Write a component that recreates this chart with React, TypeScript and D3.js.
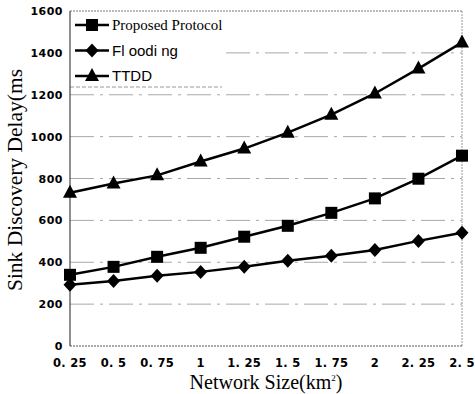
import React from "react";
import * as d3 from "d3";

// network size (km^2)
const sizes = [0.25, 0.5, 0.75, 1, 1.25, 1.5, 1.75, 2, 2.25, 2.5];
const sizeLabels = ["0. 25", "0. 5", "0. 75", "1", "1. 25", "1. 5", "1. 75", "2", "2. 25", "2. 5"];
const yTicks = [0, 200, 400, 600, 800, 1000, 1200, 1400, 1600];

const proposed = [340, 378, 426, 469, 522, 574, 636, 705, 799, 909];
const flooding = [292, 311, 335, 354, 378, 407, 431, 459, 502, 541];
const ttdd = [732, 776, 815, 881, 943, 1019, 1105, 1206, 1325, 1450];

const series = [
  { name: "Proposed Protocol", values: proposed, marker: "square", font: "'Liberation Serif', 'Times New Roman', serif" },
  { name: "Fl oodi ng", values: flooding, marker: "diamond", font: "'Liberation Sans Narrow', 'Liberation Sans', Arial, sans-serif" },
  { name: "TTDD", values: ttdd, marker: "triangle", font: "'Liberation Sans Narrow', 'Liberation Sans', Arial, sans-serif" },
];

const W = 475;
const H = 394;
const left = 70;
const right = 462;
const top = 11;
const bottom = 346;

function Marker({ type, x, y }: { type: string; x: number; y: number }) {
  if (type === "square") return <rect x={x - 6} y={y - 6} width={12} height={12} fill="#000" />;
  if (type === "diamond") return <path d={`M${x},${y - 7}L${x + 6.5},${y}L${x},${y + 7}L${x - 6.5},${y}Z`} fill="#000" />;
  return <path d={`M${x},${y - 8}L${x + 7},${y + 5}L${x - 7},${y + 5}Z`} fill="#000" />;
}

export default function App() {
  const x = d3.scaleLinear().domain([0.25, 2.5]).range([left, right]);
  const y = d3.scaleLinear().domain([0, 1600]).range([bottom, top]);
  const line = d3
    .line<number>()
    .x((_, i) => x(sizes[i]))
    .y((d) => y(d));

  const tickFont = "'DejaVu Sans', Verdana, sans-serif";

  return (
    <svg width={W} height={H} style={{ position: "absolute", left: 0, top: 0, background: "#fff" }}>
      {/* grid */}
      {yTicks.slice(1, -1).map((t) => (
        <line key={t} x1={left} x2={right} y1={y(t)} y2={y(t)} stroke="#a8a8a8" strokeWidth={1} strokeDasharray="24,6,3,6" />
      ))}
      {/* legend box (hides grid behind it) */}
      <rect x={left} y={top} width={222 - left} height={87 - top} fill="#fff" />
      <line x1={left} x2={222} y1={87} y2={87} stroke="#999" strokeDasharray="4,2" />

      {/* frame */}
      <line x1={left} x2={right} y1={top} y2={top} stroke="#777" strokeDasharray="2,1" />
      <line x1={right} x2={right} y1={top} y2={bottom} stroke="#999" strokeDasharray="2,1" />
      <line x1={left} x2={right} y1={bottom} y2={bottom} stroke="#555" strokeDasharray="2,1" />
      <line x1={left} x2={left} y1={top} y2={bottom} stroke="#444" strokeWidth={1.2} />

      {/* y ticks */}
      {yTicks.map((t) => (
        <text key={t} x={63} y={y(t) + 4} textAnchor="end" fontFamily={tickFont} fontWeight="bold" fontSize={11} letterSpacing={0.5}>
          {t}
        </text>
      ))}
      {/* x ticks */}
      {sizes.map((s, i) => (
        <text key={s} x={x(s)} y={367} textAnchor="middle" fontFamily={tickFont} fontWeight="bold" fontSize={11.5} letterSpacing={0.3}>
          {sizeLabels[i]}
        </text>
      ))}

      {/* series */}
      {series.map((s) => (
        <g key={s.name}>
          <path d={line(s.values) ?? ""} fill="none" stroke="#000" strokeWidth={2.5} />
          {s.values.map((v, i) => (
            <Marker key={i} type={s.marker} x={x(sizes[i])} y={y(v)} />
          ))}
        </g>
      ))}

      {/* legend */}
      {series.map((s, i) => {
        const ly = 25 + i * 25.5;
        return (
          <g key={s.name}>
            <line x1={75} x2={109} y1={ly} y2={ly} stroke="#000" strokeWidth={2.5} />
            <Marker type={s.marker} x={92} y={ly} />
            <text x={112} y={ly + 5} fontFamily={s.font} fontSize={15}>
              {s.name}
            </text>
          </g>
        );
      })}

      {/* axis titles */}
      <text
        transform={`translate(22,180) rotate(-90)`}
        textAnchor="middle"
        fontFamily="'Liberation Serif', 'Times New Roman', serif"
        fontSize={21.5}
      >
        Sink Discovery Delay(ms
      </text>
      <text x={266} y={389} textAnchor="middle" fontFamily="'Liberation Serif', 'Times New Roman', serif" fontSize={20}>
        Network Size(km
        <tspan fontSize={9} dy={-8}>2</tspan>
        <tspan dy={8}>)</tspan>
      </text>
    </svg>
  );
}
